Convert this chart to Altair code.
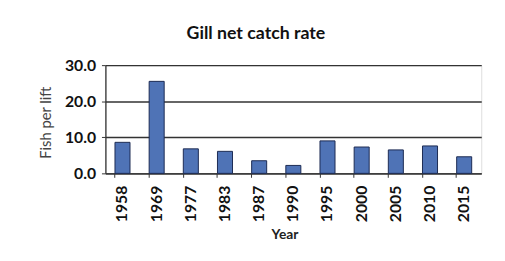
import altair as alt
import pandas as pd

years = ["1958", "1969", "1977", "1983", "1987", "1990", "1995", "2000", "2005", "2010", "2015"]
fish_per_lift = [8.6, 25.5, 6.8, 6.1, 3.5, 2.2, 9.0, 7.3, 6.5, 7.6, 4.6]

df = pd.DataFrame({"Year": years, "Fish per lift": fish_per_lift})

FONT = "Lato"

chart = alt.Chart(df).mark_bar(
    color="#4f73b6", stroke="#1c2a52", strokeWidth=1
).encode(
    x=alt.X("Year:N", sort=years,
            scale=alt.Scale(paddingInner=0.56, paddingOuter=0.28),
            axis=alt.Axis(title="Year", labelAngle=-90, labelFont=FONT, labelFontWeight="bold",
                          labelFontSize=16, labelColor="#111", labelPadding=8,
                          ticks=True, tickSize=4, tickColor="#333", bandPosition=0,
                          domainColor="#333", domainWidth=1.3,
                          titleFont=FONT, titleFontWeight="bold", titleFontSize=14,
                          titleColor="#222", titleX=182, titleY=55, titleBaseline="top")),
    y=alt.Y("Fish per lift:Q", scale=alt.Scale(domain=[0, 30], nice=False),
            axis=alt.Axis(title="Fish per lift", values=[0, 10, 20, 30], format=".1f",
                          labelFont=FONT, labelFontWeight="bold", labelFontSize=16,
                          labelColor="#111", labelPadding=6, tickSize=4, tickColor="#333",
                          domainColor="#333", domainWidth=1.3,
                          grid=True, gridColor="#333333", gridWidth=1.4,
                          titleFont=FONT, titleFontWeight="normal", titleFontSize=15,
                          titleColor="#444", titleX=-53, titleY=58)),
).properties(
    width=382,
    height=110,
    title=alt.TitleParams("Gill net catch rate", font=FONT, fontSize=18, fontWeight="bold",
                          color="#111", anchor="middle", dx=-38, offset=15),
    autosize=alt.AutoSizeParams(type="none"),
    padding={"left": 99, "top": 56, "right": 16, "bottom": 87},
).configure_view(stroke=None).configure(background="white")

chart.save("out.html", embed_options={"renderer": "svg", "actions": False})
